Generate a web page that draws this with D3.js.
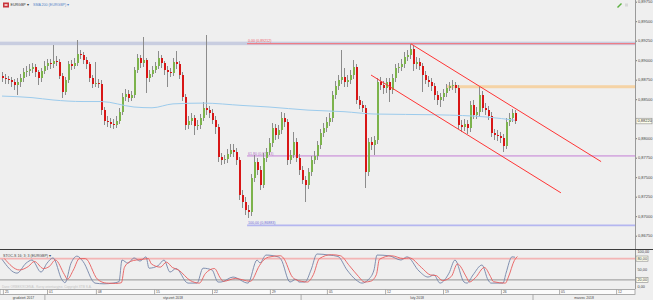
<!DOCTYPE html>
<html>
<head>
<meta charset="utf-8">
<script src="https://cdn.jsdelivr.net/npm/d3@7"></script>
<style>
  body { margin: 0; background: #efefef; }
  svg { display: block; font-family: "Liberation Sans", Arial, sans-serif; }
</style>
</head>
<body>
<script>
// EURGBP, 4h candles
var firstOpen = 0.8880;
var closes = [
  .8877,.8876,.8875,.8872,.8868,.8872,.8877,.8885,.8886,.8889,
  .8891,.8885,.8877,.8886,.8893,.8896,.8895,.8899,.8898,.8880,
  .8859,.8875,.8895,.8893,.8896,.8908,.8907,.8900,.8895,.8877,
  .8870,.8871,.8870,.8836,.8822,.8821,.8818,.8817,.8822,.8834,
  .8853,.8857,.8852,.8855,.8887,.8903,.8896,.8900,.8877,.8882,
  .8887,.8893,.8903,.8896,.8887,.8885,.8884,.8898,.8895,.8881,
  .8853,.8817,.8822,.8826,.8816,.8817,.8826,.8839,.8836,.8832,
  .8823,.8814,.8776,.8772,.8773,.8780,.8785,.8782,.8772,.8727,
  .8718,.8708,.8705,.8749,.8770,.8759,.8740,.8775,.8782,.8794,
  .8813,.8804,.8811,.8826,.8821,.8772,.8779,.8795,.8775,.8759,
  .8747,.8740,.8757,.8772,.8777,.8791,.8807,.8813,.8821,.8826,
  .8855,.8867,.8875,.8878,.8872,.8875,.8881,.8891,.8849,.8843,
  .8839,.8757,.8795,.8791,.8798,.8872,.8868,.8864,.8872,.8862,
  .8877,.8890,.8891,.8895,.8904,.8907,.8914,.8895,.8898,.8893,
  .8881,.8875,.8872,.8867,.8855,.8849,.8853,.8858,.8864,.8867,
  .8868,.8864,.8817,.8814,.8818,.8813,.8843,.8830,.8834,.8855,
  .8839,.8836,.8829,.8807,.8804,.8803,.8800,.8790,.8821,.8826,
  .8832,.8822
];
var highs = [
  .8885,.8882,.8880,.8879,.8876,.8877,.8882,.8890,.8892,.8895,
  .8897,.8895,.8888,.8890,.8899,.8902,.8901,.8919,.8905,.8901,
  .8884,.8879,.8899,.8900,.8903,.8926,.8913,.8910,.8904,.8898,
  .8881,.8898,.8876,.8874,.8840,.8828,.8826,.8824,.8828,.8839,
  .8858,.8863,.8862,.8861,.8891,.8908,.8907,.8930,.8903,.8887,
  .8892,.8898,.8912,.8907,.8899,.8892,.8890,.8903,.8912,.8899,
  .8885,.8857,.8828,.8832,.8830,.8823,.8831,.8846,.8932,.8841,
  .8837,.8828,.8818,.8781,.8779,.8786,.8792,.8793,.8787,.8776,
  .8733,.8724,.8714,.8754,.8778,.8775,.8764,.8781,.8788,.8800,
  .8820,.8818,.8817,.8834,.8832,.8825,.8785,.8808,.8800,.8780,
  .8764,.8752,.8762,.8777,.8783,.8796,.8812,.8819,.8827,.8832,
  .8860,.8873,.8881,.8913,.8890,.8881,.8887,.8900,.8895,.8854,
  .8848,.8843,.8800,.8801,.8803,.8877,.8879,.8873,.8877,.8877,
  .8882,.8895,.8897,.8901,.8910,.8913,.89212,.8918,.8904,.8903,
  .8897,.8886,.8880,.8877,.8871,.8860,.8858,.8863,.8869,.8872,
  .8874,.8872,.8868,.8823,.8824,.8823,.8848,.8849,.8840,.8866,
  .8860,.8845,.8841,.8833,.8812,.8810,.8808,.8805,.8826,.8832,
  .8837,.8836
];
var lows = [
  .8872,.8870,.8869,.8866,.8862,.8855,.8866,.8872,.8878,.8880,
  .8884,.8878,.8868,.8872,.8882,.8888,.8889,.8890,.8892,.8876,
  .8852,.8855,.8871,.8888,.8889,.8893,.8901,.8895,.8889,.8872,
  .8864,.8866,.8864,.8830,.8817,.8815,.8813,.8812,.8813,.8818,
  .8830,.8848,.8846,.8848,.8851,.8883,.8890,.8891,.8858,.8872,
  .8878,.8883,.8889,.8890,.8881,.8866,.8878,.8880,.8889,.8876,
  .8848,.8811,.8812,.8817,.8804,.8810,.8812,.8822,.8830,.8826,
  .8818,.8806,.8770,.8766,.8767,.8768,.8776,.8776,.8766,.8721,
  .8711,.8702,.8698,.8700,.8744,.8753,.8734,.8736,.8770,.8778,
  .8789,.8798,.8799,.8806,.8815,.8766,.8767,.8774,.8769,.8753,
  .8741,.8718,.8735,.8752,.8767,.8772,.8786,.8802,.8808,.8816,
  .8821,.8850,.8862,.8870,.8866,.8866,.8870,.8876,.8844,.8837,
  .8833,.8736,.8752,.8785,.8779,.8793,.8862,.8857,.8858,.8847,
  .8857,.8872,.8884,.8886,.8890,.8899,.8902,.8886,.8889,.8887,
  .8859,.8869,.8866,.8860,.8849,.8843,.8840,.8848,.8853,.8860,
  .8862,.8858,.8812,.8808,.8809,.8806,.8808,.8825,.8825,.8829,
  .8833,.8830,.8823,.8801,.8798,.8797,.8794,.8782,.8786,.8816,
  .8821,.8818
];

// SMA 200 (read at a few candles)
var smaIdx = [0,10,17,27,33,44,50,57,67,80,89,102,114,124,145,162,171];
var smaVal = [.8854,.8852,.8849,.8847,.8847,.8840,.8839,.8844,.8845,.8842,.8840,.8836,.8834,.8831,.8830,.8827,.8823];

// Stochastic 16;3;3
var stochIdx = [0,5,8,10,13,15,17,20,21,23,25,27,31,34,37,39,40,42,44,46,48,49,52,54,56,58,62,65,67,70,72,73,77,82,85,86,88,92,93,96,98,99,101,103,105,109,112,115,118,120,122,124,125,129,133,135,139,142,144,146,149,151,154,155,157,160,162,163,167,168,170,171];
var stochK = [78,39,67,76,42,67,82,20,12,67,87,72,11,9,11,15,76,67,82,73,85,53,60,76,42,52,11,11,53,48,14,14,28,11,76,68,90,85,78,14,22,14,14,48,93,90,86,48,20,11,20,48,90,88,76,85,45,28,34,11,39,76,14,11,34,62,20,11,11,39,85,84];
var stochD = [80,48,58,72,52,58,76,35,22,48,80,80,22,11,10,12,55,72,76,78,80,65,56,70,55,48,18,11,38,52,25,16,24,16,60,72,84,88,82,28,18,16,14,35,80,91,88,60,30,14,16,35,78,88,80,82,55,34,32,18,30,65,28,14,26,55,30,15,11,28,75,86];

// drawn objects
var priceTicks = [0.8675,0.8700,0.8725,0.8750,0.8775,0.8800,0.8825,0.8850,0.8875,0.8900,0.8925,0.8950,0.8975];
var fibNames = ["0,00","61,80","100,00"];
var fibPrices = [0.89212, 0.87773, 0.86883];
var fibStart = 81.7;
var resistance = 0.8866, resistanceStart = 148;
var channelTop = [[136.3, 0.8921], [199.7, 0.8770]];
var channelBottom = [[123, 0.8881], [186.3, 0.8730]];

var weekIdx = [0.3,15,31.3,50.7,70,89.3,108.3,127.7,147,166.3,185.7,204.7];
var weekLabels = ["25","01","08","15","22","29","05","12","19","26","05","12"];
var monthBounds = [0,14.3,99.7,177,211];
var monthLabels = ["grudzień 2017","styczeń 2018","luty 2018","marzec 2018"];
var stochTicks = [0,20,50,80,100];

var W = 653, H = 300, axisX = 635;
var fmt = function(v, n) { return d3.format("." + n + "f")(v).replace(".", ","); };

var x = d3.scaleLinear().domain([0, 211]).range([2, 635]);
var y = d3.scaleLinear().domain([0.8675, 0.8975]).range([235.7, 1.7]);
var ys = d3.scaleLinear().domain([0, 100]).range([287, 251.5]);

var svg = d3.select("body").append("svg").attr("width", W).attr("height", H);
svg.append("rect").attr("width", W).attr("height", H).attr("fill", "#efefef");

svg.append("clipPath").attr("id", "main").append("rect")
  .attr("x", 0).attr("y", 0).attr("width", axisX).attr("height", 248);
var main = svg.append("g").attr("clip-path", "url(#main)");

/* ---------- levels ---------- */
main.append("rect").attr("x", 0).attr("width", axisX)
  .attr("y", y(fibPrices[0]) - 2).attr("height", 3.5).attr("fill", "#c8cde0");
main.append("rect").attr("x", x(resistanceStart)).attr("width", axisX - x(resistanceStart))
  .attr("y", y(resistance) - 1.5).attr("height", 3).attr("fill", "#f5d3a5");

var fibColors = ["#ee7d86", "#d6aee0", "#b4b6f0"];
var fibText = ["#ee5a66", "#b070c8", "#6a6ad8"];
fibPrices.forEach(function(p, k) {
  main.append("line").attr("x1", x(fibStart)).attr("x2", axisX)
    .attr("y1", y(p)).attr("y2", y(p))
    .attr("stroke", fibColors[k]).attr("stroke-width", k == 0 ? 1.2 : 1.8);
  main.append("text").attr("x", x(fibStart) + 1).attr("y", y(p) - 1.3)
    .attr("font-size", 3.6).attr("fill", fibText[k])
    .text(fibNames[k] + " (" + fmt(p, 5) + ")");
});

/* ---------- candles ---------- */
var candles = closes.map(function(c, i) {
  return { i: i, o: i ? closes[i - 1] : firstOpen, c: c, h: highs[i], l: lows[i] };
});
var cg = main.append("g").attr("shape-rendering", "crispEdges");
cg.selectAll(".wick").data(candles).enter().append("line")
  .attr("x1", d => x(d.i) + 0.5).attr("x2", d => x(d.i) + 0.5)
  .attr("y1", d => y(d.h)).attr("y2", d => y(d.l))
  .attr("stroke", "#8c8c8c").attr("stroke-width", 1);
cg.selectAll(".body").data(candles).enter().append("rect")
  .attr("x", d => x(d.i) - 0.5).attr("width", 2)
  .attr("y", d => y(Math.max(d.o, d.c)))
  .attr("height", d => Math.max(1, Math.abs(y(d.o) - y(d.c))))
  .attr("fill", d => d.c >= d.o ? "#7cb34c" : "#d81616");

/* ---------- SMA 200 ---------- */
main.append("path")
  .datum(smaIdx.map((v, k) => [v, smaVal[k]]))
  .attr("fill", "none").attr("stroke", "#9ccbec").attr("stroke-width", 1)
  .attr("d", d3.line().x(d => x(d[0])).y(d => y(d[1])).curve(d3.curveMonotoneX));

/* ---------- channel ---------- */
[channelTop, channelBottom].forEach(function(c) {
  main.append("line")
    .attr("x1", x(c[0][0])).attr("y1", y(c[0][1]))
    .attr("x2", x(c[1][0])).attr("y2", y(c[1][1]))
    .attr("stroke", "#ff3434").attr("stroke-width", 1);
});

/* ---------- header ---------- */
svg.append("rect").attr("x", 3).attr("y", 2.5).attr("width", 6).attr("height", 5).attr("fill", "#c8343c");
svg.append("rect").attr("x", 4.5).attr("y", 4).attr("width", 3).attr("height", 2).attr("fill", "#f0c0c0");
svg.append("text").attr("x", 10.5).attr("y", 6.4).attr("font-size", 3.6).attr("fill", "#333").text("EURGBP  ▾");
svg.append("text").attr("x", 33).attr("y", 6.4).attr("font-size", 3.6).attr("fill", "#5a86c8").text("SMA 200 (EURGBP)  ▾");
svg.append("path").attr("d", "M617,7 L621,3 L622,4 L618,8 Z").attr("fill", "#5cb040");
svg.append("rect").attr("x", 625).attr("y", 3.5).attr("width", 3).attr("height", 3).attr("fill", "#d8d8d8");

/* ---------- right price axis ---------- */
var last = closes[closes.length - 1];
svg.append("line").attr("x1", axisX + 0.5).attr("x2", axisX + 0.5).attr("y1", 0).attr("y2", 289)
  .attr("stroke", "#9a9a9a");
// the last-price box takes the place of a tick label close to it
var shownTicks = priceTicks.filter(t => Math.abs(y(t) - y(last)) > 6);
var ay = svg.append("g").attr("transform", "translate(" + (axisX + 1) + ",0)")
  .call(d3.axisRight(y).tickValues(shownTicks).tickSize(1).tickFormat(d => fmt(d, 5)));
ay.select(".domain").remove();
ay.selectAll("line").attr("stroke", "#777");
ay.selectAll("text").attr("font-size", 4).attr("fill", "#444").attr("x", 2)
  .attr("font-family", "Liberation Sans, Arial, sans-serif");

svg.append("rect").attr("x", axisX + 1).attr("y", y(last) - 2.8).attr("width", 16).attr("height", 5.6)
  .attr("fill", "#fdfdec").attr("stroke", "#8a8a8a").attr("stroke-width", 0.6);
svg.append("text").attr("x", axisX + 2.5).attr("y", y(last) + 1.4).attr("font-size", 4).attr("fill", "#333")
  .text(fmt(last, 5));

/* ---------- stochastic pane ---------- */
svg.append("line").attr("x1", 0).attr("x2", W).attr("y1", 249.5).attr("y2", 249.5)
  .attr("stroke", "#3c3c3c").attr("stroke-width", 1);
svg.append("line").attr("x1", 0).attr("x2", axisX).attr("y1", ys(80)).attr("y2", ys(80))
  .attr("stroke", "#f3b4b4").attr("stroke-width", 1.8);
svg.append("line").attr("x1", 0).attr("x2", axisX).attr("y1", ys(20)).attr("y2", ys(20))
  .attr("stroke", "#7c7c7c").attr("stroke-width", 0.8);

var sline = d3.line().x(d => x(d[0])).y(d => ys(d[1])).curve(d3.curveMonotoneX);
svg.append("path").datum(stochIdx.map((v, k) => [v, stochK[k]]))
  .attr("fill", "none").attr("stroke", "#7484a8").attr("stroke-width", 0.9).attr("d", sline);
svg.append("path").datum(stochIdx.map((v, k) => [v + 0.8, stochD[k]]))
  .attr("fill", "none").attr("stroke", "#e85c5c").attr("stroke-width", 0.9).attr("d", sline);

svg.append("text").attr("x", 3).attr("y", 256.5).attr("font-size", 3.6).attr("fill", "#444")
  .text("STOC-S 16; 3; 3 (EURGBP)  ▾");
svg.append("text").attr("x", 2).attr("y", 288).attr("font-size", 3.2).attr("fill", "#c4c4c4")
  .text("Dane ORBEX/XCENA - Kursy orientacyjne. Copyright XTB S.A.");

stochTicks.forEach(function(t) {
  var boxed = t == 20 || t == 80;
  if (boxed) {
    svg.append("rect").attr("x", axisX + 1).attr("y", ys(t) - 2.6).attr("width", 12).attr("height", 5.2)
      .attr("fill", "#fdfdec").attr("stroke", "#8a8a8a").attr("stroke-width", 0.6);
  }
  svg.append("text").attr("x", axisX + 2.5).attr("y", ys(t) + 1.4).attr("font-size", 3.8).attr("fill", "#444")
    .text(fmt(t, 2));
});

/* ---------- time axis ---------- */
svg.append("rect").attr("x", 0).attr("y", 289.5).attr("width", axisX).attr("height", 5)
  .attr("fill", "#fbfbfb").attr("stroke", "#9a9a9a").attr("stroke-width", 0.8);
var ax = svg.append("g").attr("transform", "translate(0,289.5)")
  .call(d3.axisBottom(x).tickValues(weekIdx).tickSize(5).tickFormat((d, k) => weekLabels[k]));
ax.select(".domain").remove();
ax.selectAll("line").attr("stroke", "#9a9a9a").attr("stroke-width", 0.8);
ax.selectAll("text").attr("font-size", 3.4).attr("fill", "#444").attr("y", 1).attr("dy", "0.71em")
  .attr("text-anchor", "start").attr("dx", 1.5)
  .attr("font-family", "Liberation Sans, Arial, sans-serif");

monthLabels.forEach(function(m, k) {
  var a = x(monthBounds[k]), b = Math.min(axisX, x(monthBounds[k + 1]));
  if (k > 0) {
    svg.append("line").attr("x1", a).attr("x2", a).attr("y1", 294.5).attr("y2", 300)
      .attr("stroke", "#9a9a9a").attr("stroke-width", 0.8);
  }
  svg.append("text").attr("x", (a + b) / 2).attr("y", 298.8).attr("text-anchor", "middle")
    .attr("font-size", 3.4).attr("fill", "#444").text(m);
});
</script>
</body>
</html>
